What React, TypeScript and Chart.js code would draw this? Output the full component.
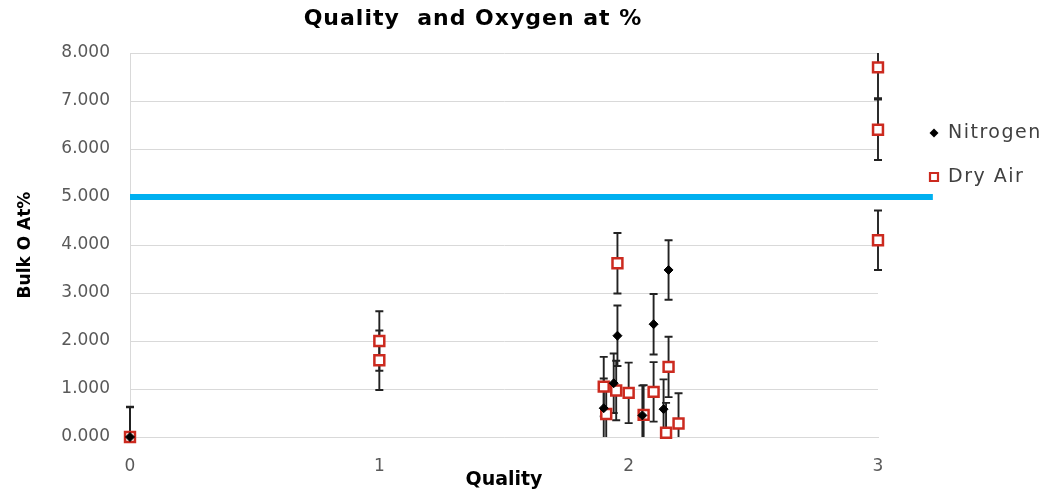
import React, { useEffect, useRef } from "react";
import { Chart, registerables } from "chart.js";

Chart.register(...registerables);

// Nitrogen runs: quality, bulk O at% and its ± error
const nitrogenX = [0, 1.9, 1.94, 1.955, 2.055, 2.1, 2.14, 2.16];
const nitrogenY = [0, 0.6, 1.12, 2.11, 0.45, 2.35, 0.58, 3.48];
const nitrogenErr = [0.63, 0.62, 0.62, 0.63, 0.62, 0.63, 0.62, 0.62];

// Dry air runs
const dryAirX = [0, 1, 1, 1.9, 1.91, 1.95, 1.955, 2.0, 2.06, 2.1, 2.15, 2.16, 2.2, 3, 3, 3];
const dryAirY = [0, 2.0, 1.6, 1.05, 0.48, 0.97, 3.62, 0.92, 0.46, 0.94, 0.09, 1.46, 0.28, 7.7, 6.4, 4.1];
const dryAirErr = [0.62, 0.62, 0.62, 0.62, 0.62, 0.62, 0.63, 0.63, 0.62, 0.62, 0.62, 0.63, 0.63, 0.64, 0.63, 0.62];

// 5 at% limit line
const limitX = [0, 3.22];
const limitY = 5;

// Axis ticks
const xTicks = [0, 1, 2, 3];
const yTicks = [0, 1, 2, 3, 4, 5, 6, 7, 8];

const chartTitle = "Quality  and Oxygen at %";
const xTitle = "Quality";
const yTitle = "Bulk O At%";
const nitrogenLabel = "Nitrogen";
const dryAirLabel = "Dry Air";

const RED = "#cc2a1f";
const FONT = "'DejaVu Sans', sans-serif";

const errorBars = {
  id: "errorBars",
  beforeDatasetsDraw(chart: any) {
    const { ctx, chartArea, scales } = chart;
    const x = scales.x;
    const y = scales.y;
    ctx.save();
    ctx.beginPath();
    ctx.rect(chartArea.left - 20, chartArea.top, chartArea.right - chartArea.left + 40, chartArea.bottom - chartArea.top);
    ctx.clip();
    ctx.strokeStyle = "#222222";
    ctx.lineWidth = 1.9;
    chart.data.datasets.forEach((ds: any) => {
      const errs: number[] | undefined = ds.errors;
      if (!errs) return;
      ds.data.forEach((p: any, i: number) => {
        const px = x.getPixelForValue(p.x);
        const top = y.getPixelForValue(p.y + errs[i]);
        const bot = y.getPixelForValue(p.y - errs[i]);
        ctx.beginPath();
        ctx.moveTo(px, top);
        ctx.lineTo(px, bot);
        ctx.moveTo(px - 4, top);
        ctx.lineTo(px + 4, top);
        ctx.moveTo(px - 4, bot);
        ctx.lineTo(px + 4, bot);
        ctx.stroke();
      });
    });
    ctx.restore();
  },
};

const headerAndKey = {
  id: "headerAndKey",
  afterDraw(chart: any) {
    const { ctx } = chart;
    ctx.save();
    ctx.textBaseline = "middle";

    // title
    ctx.font = `bold 22px ${FONT}`;
    (ctx as any).letterSpacing = "1px";
    ctx.fillStyle = "#000000";
    ctx.textAlign = "center";
    ctx.fillText(chartTitle, 473, 19);

    // key
    ctx.font = `19px ${FONT}`;
    (ctx as any).letterSpacing = "1.5px";
    ctx.textAlign = "left";
    ctx.fillStyle = "#404040";
    ctx.fillText(nitrogenLabel, 948, 133);
    ctx.fillText(dryAirLabel, 948, 177);

    ctx.fillStyle = "#000000";
    ctx.beginPath();
    ctx.moveTo(934, 128.5);
    ctx.lineTo(938.5, 133);
    ctx.lineTo(934, 137.5);
    ctx.lineTo(929.5, 133);
    ctx.closePath();
    ctx.fill();

    ctx.strokeStyle = RED;
    ctx.lineWidth = 2.2;
    ctx.fillStyle = "#ffffff";
    ctx.beginPath();
    ctx.rect(930, 173, 8, 8);
    ctx.fill();
    ctx.stroke();

    ctx.restore();
  },
};

export default function App() {
  const ref = useRef<HTMLCanvasElement>(null);

  useEffect(() => {
    if (!ref.current) return;
    const chart = new Chart(ref.current, {
      type: "scatter",
      data: {
        datasets: [
          {
            label: nitrogenLabel,
            data: nitrogenX.map((x, i) => ({ x, y: nitrogenY[i] })),
            errors: nitrogenErr,
            pointStyle: "rectRot",
            pointRadius: 4.5,
            backgroundColor: "#000000",
            borderColor: "#000000",
            borderWidth: 1,
            order: 0,
            clip: false,
          } as any,
          {
            label: dryAirLabel,
            data: dryAirX.map((x, i) => ({ x, y: dryAirY[i] })),
            errors: dryAirErr,
            pointStyle: "rect",
            pointRadius: 7,
            backgroundColor: "#ffffff",
            borderColor: RED,
            borderWidth: 2.5,
            order: 1,
            clip: false,
          } as any,
          {
            label: "limit",
            data: limitX.map((x) => ({ x, y: limitY })),
            showLine: true,
            borderColor: "#00b0f0",
            borderWidth: 6,
            pointRadius: 0,
            fill: false,
            order: 2,
            clip: false,
          } as any,
        ],
      },
      options: {
        responsive: false,
        animation: false,
        layout: { padding: { top: 53, right: 172, bottom: 0, left: 0 } },
        plugins: {
          legend: { display: false },
          title: { display: false },
          tooltip: { enabled: false },
        },
        scales: {
          x: {
            type: "linear",
            min: 0,
            max: 3,
            afterBuildTicks: (s: any) => {
              s.ticks = xTicks.map((v) => ({ value: v }));
            },
            afterFit: (s: any) => {
              s.height = 54;
            },
            grid: { display: false, drawTicks: false },
            border: { display: true, color: "#d9d9d9", width: 1 },
            ticks: {
              color: "#595959",
              font: { family: FONT, size: 17 },
              padding: 19,
              callback: (v: any) => String(v),
            },
            title: {
              display: true,
              text: xTitle,
              color: "#000000",
              font: { family: FONT, size: 19, weight: "bold" },
              padding: { top: 0, bottom: 0 },
            },
          },
          y: {
            type: "linear",
            min: 0,
            max: 8,
            afterBuildTicks: (s: any) => {
              s.ticks = yTicks.map((v) => ({ value: v }));
            },
            afterFit: (s: any) => {
              s.width = 130;
            },
            grid: { color: "#d9d9d9", lineWidth: 1, drawTicks: false },
            border: { display: true, color: "#d9d9d9", width: 1 },
            ticks: {
              color: "#595959",
              font: { family: FONT, size: 17 },
              padding: 20,
              callback: (v: any) => Number(v).toFixed(3),
            },
            title: {
              display: true,
              text: yTitle,
              color: "#000000",
              font: { family: FONT, size: 17, weight: "bold" },
              padding: { top: 15, bottom: 0 },
            },
          },
        },
      } as any,
      plugins: [errorBars, headerAndKey],
    });
    return () => chart.destroy();
  }, []);

  return (
    <div style={{ position: "fixed", left: 0, top: 0, width: 1050, height: 491, background: "#ffffff" }}>
      <canvas ref={ref} width={1050} height={491} style={{ display: "block" }} />
    </div>
  );
}
